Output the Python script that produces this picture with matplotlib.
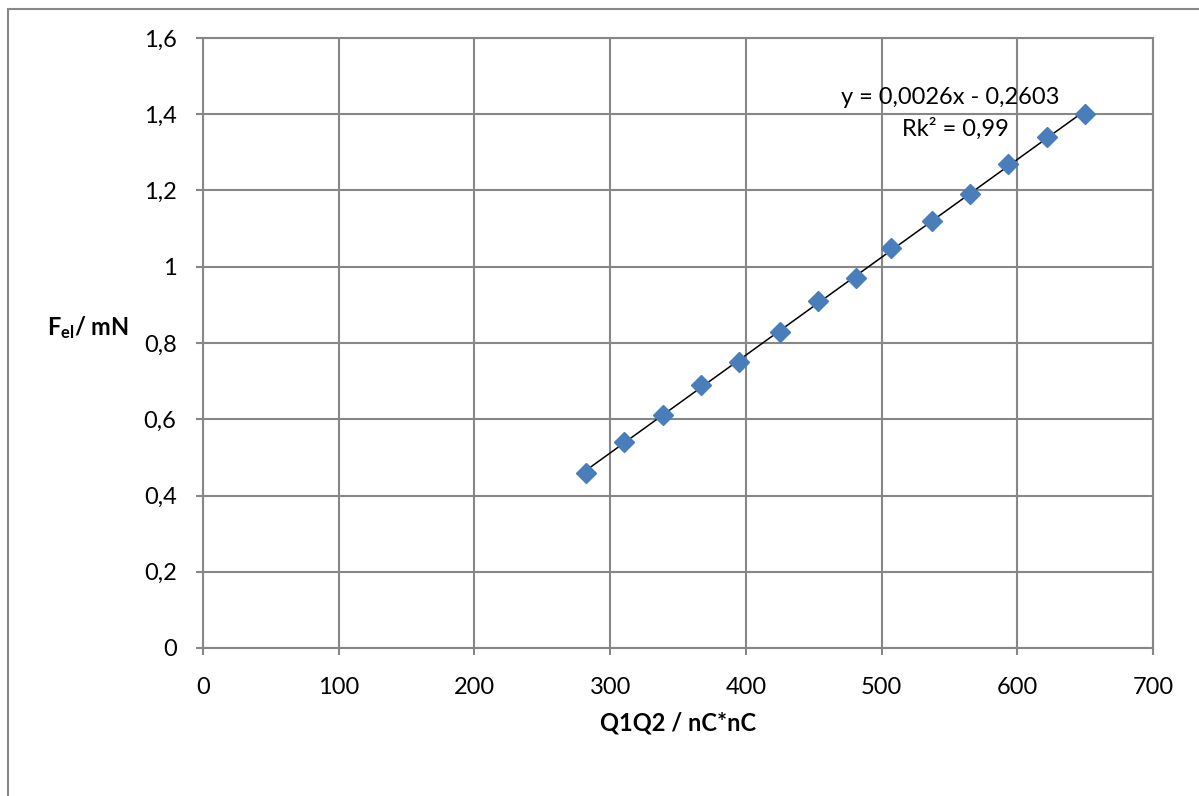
import numpy as np
import matplotlib.pyplot as plt
from matplotlib.ticker import FuncFormatter, MultipleLocator
from matplotlib.patches import Rectangle

plt.rcParams['font.family'] = ['Lato', 'DejaVu Sans']
plt.rcParams['mathtext.fontset'] = 'custom'
plt.rcParams['mathtext.rm'] = 'Lato'
plt.rcParams['mathtext.bf'] = 'Lato:bold'

# Messwerte
q1q2 = [282, 310, 339, 367, 395, 425, 453, 481, 507, 537, 565, 593, 622, 650]
f_el = [0.46, 0.54, 0.61, 0.69, 0.75, 0.83, 0.91, 0.97, 1.05, 1.12, 1.19, 1.27, 1.34, 1.40]

gleichung = 'y = 0,0026x - 0,2603'
bestimmtheit = 'Rk² = 0,99'

grau = '#878787'

fig = plt.figure(figsize=(11.99, 7.96), dpi=100)
ax = fig.add_axes([203/1199, 1-648/796, 950/1199, 610/796])

# Rahmen des Diagramms
fig.patches.append(Rectangle((8/1199, -0.1), 1.2, 1.1-9/796, transform=fig.transFigure,
                             fill=False, edgecolor=grau, linewidth=1.5))

ax.grid(True, color=grau, linewidth=1.5)
ax.set_axisbelow(True)

# lineare Trendlinie
k, d = np.polyfit(q1q2, f_el, 1)
xt = np.array([min(q1q2), max(q1q2)])
ax.plot(xt, k*xt + d, color='black', linewidth=1.1, zorder=3)

ax.plot(q1q2, f_el, linestyle='none', marker='D', markersize=10,
        color='#4a7ebb', markeredgecolor='#4a7ebb', zorder=4)

ax.set_xlim(0, 700)
ax.set_ylim(0, 1.6)
ax.xaxis.set_major_locator(MultipleLocator(100))
ax.yaxis.set_major_locator(MultipleLocator(0.2))
ax.yaxis.set_major_formatter(FuncFormatter(lambda v, p: f'{v:g}'.replace('.', ',')))

for s in ax.spines.values():
    s.set_color(grau)
    s.set_linewidth(1.5)

ax.tick_params(axis='both', direction='out', length=5, width=1.5, color=grau,
               labelsize=17, labelcolor='black')
ax.tick_params(axis='y', pad=14)
ax.tick_params(axis='x', pad=16)

ax.text(0.787, 0.903, gleichung, transform=ax.transAxes, ha='center', va='center', fontsize=17)
ax.text(0.792, 0.852, bestimmtheit, transform=ax.transAxes, ha='center', va='center', fontsize=17)

fig.text(678/1199, 1-723/796, 'Q1Q2 / nC*nC', ha='center', va='center',
         fontsize=17, fontweight='bold')
fig.text(88/1199, 1-328/796, r'$\mathbf{F_{el}}$/ mN', ha='center', va='center',
         fontsize=17, fontweight='bold')

fig.savefig('out.png', dpi=100)
